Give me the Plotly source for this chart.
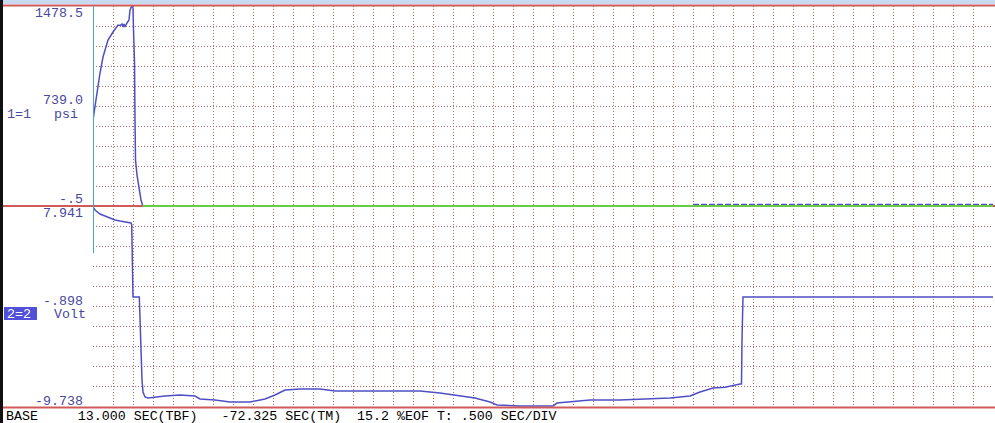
import plotly.graph_objects as go

# ---------------- data (time in seconds, 0.5 s/div) ----------------
p_time = [0.00, 0.05, 0.09, 0.175, 0.25, 0.375, 0.50, 0.575, 0.625, 0.675, 0.725,
          0.75, 0.775, 0.80, 0.825, 0.85, 0.90, 0.925, 0.968, 1.00, 1.013, 1.038,
          1.05, 1.063, 1.10, 1.15, 1.20, 1.238, 1.25]
p_psi = [636, 746, 835, 983, 1101, 1227, 1286, 1323, 1338, 1334, 1345,
         1323, 1345, 1323, 1345, 1353, 1375, 1449, 1478, 1464, 1301, 1057,
         635, 340, 229, 118, 44, 7, 0]

base_time = [1.25, 22.5]
base_psi = [-0.5, -0.5]

noise_time = [15.0, 22.5]
noise_psi = [8, 8]

v_time = [0.000, 0.050, 0.175, 0.300, 0.425, 0.550, 0.675, 0.800, 0.950, 0.968,
          0.975, 0.988, 1.000, 1.158, 1.175, 1.200, 1.225, 1.250, 1.300, 1.375,
          1.550, 1.800, 2.175, 2.550, 2.675, 3.050, 3.425, 3.925, 4.300, 4.550,
          4.800, 5.175, 5.675, 6.050, 6.675, 7.675, 8.175, 8.675, 9.050, 9.550,
          9.925, 10.100, 10.675, 11.500, 11.600, 12.050, 12.425, 13.175, 13.850, 14.425,
          14.925, 15.175, 15.500, 15.800, 16.175, 16.2125, 16.225, 16.250, 22.500]
v_volt = [7.85, 7.59, 7.24, 7.06, 6.89, 6.71, 6.62, 6.53, 6.45, 6.27,
          4.95, 3.19, -0.06, -0.06, -2.09, -5.60, -7.36, -8.42, -8.86, -8.95,
          -8.86, -8.77, -8.68, -8.77, -9.03, -9.12, -9.30, -9.30, -9.03, -8.68,
          -8.24, -8.15, -8.15, -8.33, -8.33, -8.33, -8.33, -8.51, -8.68, -8.95,
          -9.30, -9.56, -9.65, -9.65, -9.39, -9.21, -9.12, -9.12, -9.03, -8.95,
          -8.77, -8.42, -8.07, -8.00, -7.72, -7.72, -3.85, -0.06, -0.06]

psi_ticks = ["1478.5", "739.0", "-.5"]
volt_ticks = ["7.941", "-.898", "-9.738"]
status = "BASE     13.000 SEC(TBF)   -72.325 SEC(TM)  15.2 %EOF T: .500 SEC/DIV"

# ---------------- styling ----------------
BLUE = "#4f4fc4"
RED = "#d05a5a"
GRID = "#b86a6a"
LABEL = "#4848a0"
GREEN = "#66cc44"
FONT = "Liberation Mono, DejaVu Sans Mono, monospace"

W, H = 995, 423
L, R, T, B = 93, 2, 6, 16
PW, PH = W - L - R, H - T - B


def px_x(x):
    return (x - L) / PW


def px_y(y):
    return (H - B - y) / PH


mid = px_y(206)

fig = go.Figure()
fig.add_trace(go.Scatter(x=p_time, y=p_psi, mode="lines", line=dict(color=BLUE, width=1.5),
                         xaxis="x", yaxis="y", showlegend=False, hoverinfo="skip"))
fig.add_trace(go.Scatter(x=noise_time, y=noise_psi, mode="lines",
                         line=dict(color=BLUE, width=2, dash="6px,2px"),
                         xaxis="x", yaxis="y", showlegend=False, hoverinfo="skip"))
fig.add_trace(go.Scatter(x=v_time, y=v_volt, mode="lines", line=dict(color=BLUE, width=1.5),
                         xaxis="x", yaxis="y2", showlegend=False, hoverinfo="skip"))

grid_common = dict(showgrid=True, gridcolor=GRID, griddash="1px,2px", gridwidth=1,
                   showticklabels=False, zeroline=False, showline=False, ticks="")

fig.update_layout(
    width=W, height=H,
    margin=dict(l=L, r=R, t=T, b=B),
    paper_bgcolor="white", plot_bgcolor="white",
    xaxis=dict(range=[0, 22.5], tick0=0, dtick=0.5, anchor="y2", domain=[0, 1], **grid_common),
    yaxis=dict(range=[-0.5, 1478.5], tick0=-0.5, dtick=147.9, domain=[mid, 1], anchor="x", **grid_common),
    yaxis2=dict(range=[-9.738, 7.941], tick0=-9.738, dtick=1.7679, domain=[0, mid], anchor="x", **grid_common),
)

shapes = []
shapes.append(dict(type="rect", xref="paper", yref="paper", x0=px_x(0), x1=px_x(3), y0=px_y(423), y1=px_y(0),
                   fillcolor="#111111", line=dict(width=0), layer="above"))
shapes.append(dict(type="rect", xref="paper", yref="paper", x0=px_x(3), x1=px_x(995), y0=px_y(4), y1=px_y(0),
                   fillcolor="#c8daf2", line=dict(width=0), layer="above"))
for yy in (5.5, 206, 407.5):
    shapes.append(dict(type="line", xref="paper", yref="paper", x0=px_x(3), x1=px_x(995),
                       y0=px_y(yy), y1=px_y(yy), line=dict(color=RED, width=2), layer="above"))
shapes.append(dict(type="line", xref="x", yref="paper", x0=base_time[0], x1=base_time[1],
                   y0=px_y(206), y1=px_y(206), line=dict(color=GREEN, width=2), layer="above"))
shapes.append(dict(type="line", xref="paper", yref="paper", x0=px_x(93.5), x1=px_x(93.5),
                   y0=px_y(6), y1=px_y(253), line=dict(color="#4aa6c8", width=1), layer="above"))
shapes.append(dict(type="rect", xref="paper", yref="paper", x0=px_x(4), x1=px_x(37), y0=px_y(320), y1=px_y(307),
                   fillcolor="#5050d8", line=dict(width=0), layer="above"))
fig.update_layout(shapes=shapes)

ann = []


def label(text, x, y, anchor="right", color=LABEL, size=13.3):
    ann.append(dict(text=text.replace(" ", "\u00a0"), xref="paper", yref="paper", x=px_x(x), y=px_y(y),
                    xanchor=anchor, yanchor="middle", showarrow=False,
                    font=dict(family=FONT, size=size, color=color)))


label(psi_ticks[0], 85, 13.5)
label(psi_ticks[1], 85, 100)
label(psi_ticks[2], 85, 200)
label("1=1", 5, 114, anchor="left")
label("psi", 52, 114, anchor="left")
label(volt_ticks[0], 85, 213.5)
label(volt_ticks[1], 85, 301)
label(volt_ticks[2], 85, 401)
label("2=2", 5, 314, anchor="left", color="white")
label("Volt", 52, 314, anchor="left")
label(status, 4, 416, anchor="left", color="#000000")
fig.update_layout(annotations=ann)

fig.write_html("out.html", config={"displayModeBar": False},
               post_script="document.body.style.margin='0';document.body.style.overflow='hidden';")
